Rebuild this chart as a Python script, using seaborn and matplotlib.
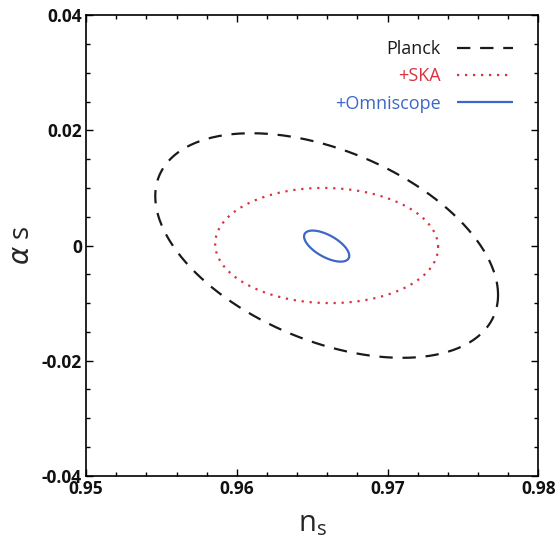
import numpy as np
import pandas as pd
import matplotlib
matplotlib.use('Agg')
import matplotlib.pyplot as plt
from matplotlib.ticker import MultipleLocator
import seaborn as sns

# Forecast contours: centre, 1-sigma widths and correlation
labels = ['Planck', '+SKA', '+Omniscope']
center_ns = [0.96596, 0.96596, 0.96596]
center_as = [0.0, 0.0, -0.0001]
sigma_ns = [0.011375, 0.0074, 0.0015]
sigma_as = [0.0195, 0.0100, 0.0027]
rho = [-0.44, -0.03, -0.62]

colors = ['#1a1a1a', '#d8343f', '#3d67c6']
dashes = [(6.0, 4.4), (1.0, 2.6), (1, 0)]

sns.set_style('ticks')
plt.rcParams['font.family'] = ['Open Sans', 'DejaVu Sans']

t = np.linspace(0, 2 * np.pi, 400)
frames = []
for lab, cx, cy, sx, sy, r in zip(labels, center_ns, center_as, sigma_ns, sigma_as, rho):
    frames.append(pd.DataFrame({
        'ns': cx + sx * np.cos(t),
        'as': cy + sy * (r * np.cos(t) + np.sqrt(1 - r ** 2) * np.sin(t)),
        'model': lab,
    }))
df = pd.concat(frames, ignore_index=True)

fig = plt.figure(figsize=(5.56, 5.42), dpi=100)
ax = fig.add_axes([0.155, 0.122, 0.813, 0.850])

sns.lineplot(data=df, x='ns', y='as', hue='model', style='model',
             palette=dict(zip(labels, colors)), dashes=dict(zip(labels, dashes)),
             sort=False, estimator=None, lw=1.6, ax=ax)

ax.set_xlim(0.95, 0.98)
ax.set_ylim(-0.04, 0.04)
ax.xaxis.set_minor_locator(MultipleLocator(0.002))
ax.yaxis.set_minor_locator(MultipleLocator(0.005))
ax.set_xticks([0.95, 0.96, 0.97, 0.98])
ax.set_xticklabels(['0.95', '0.96', '0.97', '0.98'])
ax.set_yticks([-0.04, -0.02, 0, 0.02, 0.04])
ax.set_yticklabels(['-0.04', '-0.02', '0', '0.02', '0.04'])
ax.tick_params(which='both', direction='in', top=True, right=True, width=1.0, color='black')
ax.tick_params(which='major', length=5, labelsize=12.5, pad=3, labelcolor='#111111')
ax.tick_params(which='minor', length=3)
for lbl in ax.get_xticklabels() + ax.get_yticklabels():
    lbl.set_fontweight('bold')
for sp in ax.spines.values():
    sp.set_linewidth(1.2)
    sp.set_color('black')

ax.set_xlabel(r'n$_{\mathregular{s}}$', fontsize=21, labelpad=8)
ax.set_ylabel(r'$\alpha$ s', fontsize=20, labelpad=4)

leg = ax.legend(loc='upper right', frameon=False, markerfirst=False, fontsize=13,
                handlelength=3.1, handletextpad=0.9, labelspacing=0.5,
                borderaxespad=1.0)
for txt, c in zip(leg.get_texts(), colors):
    txt.set_color(c)

fig.savefig('out.png', dpi=100)
